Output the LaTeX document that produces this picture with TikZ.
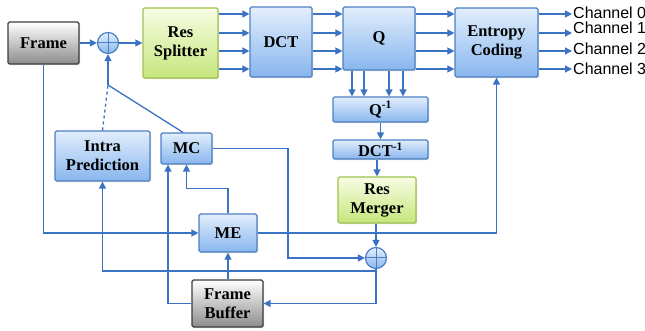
\documentclass[tikz,border=0pt]{standalone}
\usepackage{fontspec}
\setmainfont{Liberation Serif}
\newfontfamily\chanfont{Liberation Sans}
\usetikzlibrary{arrows.meta,shadows}
\definecolor{wireblue}{HTML}{3A72C4}
\definecolor{bluedge}{HTML}{4D80C2}
\definecolor{bluetop}{HTML}{E2EEFC}
\definecolor{bluebot}{HTML}{88B6EE}
\definecolor{grnedge}{HTML}{9DC34E}
\definecolor{grntop}{HTML}{F8FCE3}
\definecolor{grnbot}{HTML}{C6E67C}
\definecolor{gryedge}{HTML}{3C3C3C}
\definecolor{grybot}{HTML}{8C8C8C}
\tikzset{blk/.style={draw=bluedge,line width=1.2pt,top color=bluetop,bottom color=bluebot,
    rounded corners=1.5pt,inner sep=0pt,align=center,font=\bfseries\fontsize{16.5}{19}\selectfont,
    drop shadow={shadow xshift=1.2pt,shadow yshift=-1.2pt,opacity=.3}},
  grn/.style={blk,draw=grnedge,top color=grntop,bottom color=grnbot},
  gry/.style={blk,draw=gryedge,top color=white,bottom color=grybot},
  sum/.style={circle,draw=bluedge,line width=1.2pt,top color=bluetop,bottom color=bluebot,
    minimum size=21pt,inner sep=0pt,path picture={\draw[bluedge,line width=1pt]
    (path picture bounding box.north) -- (path picture bounding box.south)
    (path picture bounding box.west) -- (path picture bounding box.east);}},
  chan/.style={anchor=west,inner sep=1pt,font=\chanfont\fontsize{16}{18}\selectfont},
  wire/.style={draw=wireblue,line width=1.3pt},
  arr/.style={wire,-{Triangle[length=7pt,width=7pt]}}}
\begin{document}
\begin{tikzpicture}[x=1pt,y=1pt]
\useasboundingbox (0,0) rectangle (645,331);
\node[gry,minimum width=71,minimum height=42] (frame) at (43.5,288) {Frame};
\node[sum] (sumA) at (108,288) {};
\node[grn,minimum width=75,minimum height=70] (split) at (180.5,288) {Res\\Splitter};
\node[blk,minimum width=62,minimum height=70] (dct) at (281,289) {DCT};
\node[blk,minimum width=72,minimum height=63] (q) at (379,292.5) {Q};
\node[blk,minimum width=83,minimum height=69] (ent) at (496.5,288.5) {Entropy\\Coding};
\node[blk,minimum width=95,minimum height=25] (iq) at (380.5,221.5) {Q\textsuperscript{-1}};
\node[blk,minimum width=95,minimum height=19] (idct) at (380.5,181.5) {DCT\textsuperscript{-1}};
\node[grn,minimum width=78,minimum height=46] (merge) at (377,131) {Res\\Merger};
\node[sum] (sumB) at (376,73) {};
\node[blk,minimum width=95,minimum height=50] (intra) at (102.5,175) {Intra\\Prediction};
\node[blk,minimum width=51,minimum height=31] (mc) at (186.5,182.5) {MC};
\node[blk,minimum width=58,minimum height=38] (me) at (228,98) {ME};
\node[gry,minimum width=71,minimum height=47] (fbuf) at (227.5,27.5) {Frame\\Buffer};
\node[chan] (ch0) at (572,318) {Channel 0};
\node[chan] (ch1) at (572,303) {Channel 1};
\node[chan] (ch2) at (572,282) {Channel 2};
\node[chan] (ch3) at (572,262) {Channel 3};
\coordinate (jn) at (108,246);

\draw[arr] (frame) -- (sumA);
\draw[arr] (sumA) -- (split);
\foreach \y in {317,298,280,262}{
  \draw[arr] (split.east |- 0,\y) -- (dct.west |- 0,\y);
  \draw[arr] (dct.east |- 0,\y) -- (q.west |- 0,\y);
  \draw[arr] (q.east |- 0,\y) -- (ent.west |- 0,\y);
}
\foreach \y/\c in {317/ch0,298/ch1,280/ch2,262/ch3}
  \draw[arr] (ent.east |- 0,\y) -- (\c.west |- 0,\y);
\foreach \x in {352,364,389,403}
  \draw[arr] (q.south -| \x,0) -- (iq.north -| \x,0);
\draw[arr] (iq) -- (idct);
\draw[arr] (idct.south -| merge.north) -- (merge.north);
\draw[arr] (merge.south -| sumB) -- (sumB);
\draw[arr] (frame.south) |- (me.west);
\draw[arr] (me.east) -| (ent.south);
\draw[arr] (me.north) -- ++(0,25) -| (mc.south);
\draw[arr] (fbuf.north -| me.south) -- (me.south);
\draw[arr] (fbuf.west) -| ([xshift=-18.5pt]mc.south);
\draw[arr] (mc.east) -- (mc.east -| 288,0) |- (sumB.west);
\draw[arr] (sumB.south) |- (fbuf.east);
\draw[arr] ([yshift=-2pt]sumB.south) -| (intra.south);
\draw[wire] ([xshift=-3.5pt]mc.north) -- (jn);
\draw[arr] (jn) -- (sumA.south);
\draw[wire,dashed] (intra.north) -- (jn);
\end{tikzpicture}
\end{document}
